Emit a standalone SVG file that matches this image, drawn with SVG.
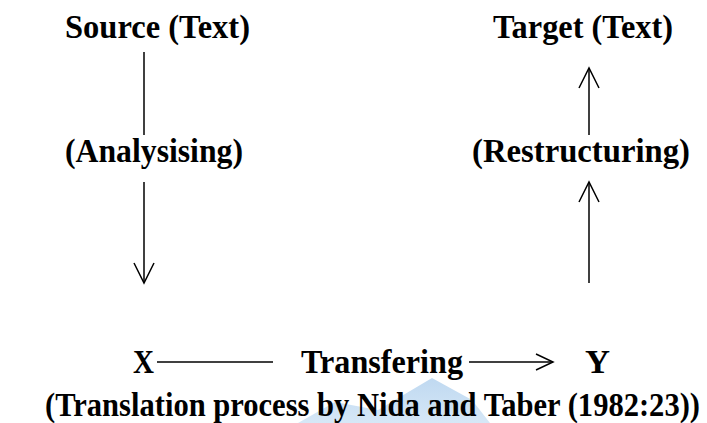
<svg xmlns="http://www.w3.org/2000/svg" width="707" height="423" viewBox="0 0 707 423">
<style>
.t{font-family:"Liberation Serif","Times New Roman",serif;font-weight:bold;font-size:34px;fill:#000}
.c{stroke:#000;stroke-width:1.5;fill:none}
</style>
<defs>
<linearGradient id="wm" x1="0" y1="0" x2="0" y2="1">
<stop offset="0" stop-color="#b4d2ee"/>
<stop offset="1" stop-color="#cfe3f5"/>
</linearGradient>
</defs>
<rect width="707" height="423" fill="#fff"/>
<g id="watermark">
<polygon points="298,423 335,402 378,410 432,378 472,400 490,423" fill="url(#wm)" opacity="0.85"/>
</g>
<g id="source"><text class="t" x="65" y="38" textLength="185" lengthAdjust="spacingAndGlyphs">Source (Text)</text></g>
<g id="target"><text class="t" x="493" y="38" textLength="180" lengthAdjust="spacingAndGlyphs">Target (Text)</text></g>
<g id="analysing"><text class="t" x="65" y="162" textLength="178" lengthAdjust="spacingAndGlyphs">(Analysising)</text></g>
<g id="restructuring"><text class="t" x="472" y="162" textLength="218" lengthAdjust="spacingAndGlyphs">(Restructuring)</text></g>
<g id="x"><text class="t" x="133" y="373" textLength="21" lengthAdjust="spacingAndGlyphs">X</text></g>
<g id="transfering"><text class="t" x="301" y="373" textLength="162" lengthAdjust="spacingAndGlyphs">Transfering</text></g>
<g id="y"><text class="t" x="585" y="373" textLength="25" lengthAdjust="spacingAndGlyphs">Y</text></g>
<g id="caption"><text class="t" x="45" y="416" textLength="655" lengthAdjust="spacingAndGlyphs">(Translation process by Nida and Taber (1982:23))</text></g>
<g id="connectors">
<line class="c" x1="144" y1="52" x2="144" y2="135"/>
<line class="c" x1="144" y1="182" x2="144" y2="283"/>
<polyline class="c" points="134,263 144,283 154,263"/>
<line class="c" x1="589" y1="283" x2="589" y2="182"/>
<polyline class="c" points="579,202 589,182 599,202"/>
<line class="c" x1="589" y1="135" x2="589" y2="68"/>
<polyline class="c" points="579,88 589,68 599,88"/>
<line class="c" x1="157" y1="362" x2="273" y2="362"/>
<line class="c" x1="469" y1="362" x2="553" y2="362"/>
<polyline class="c" points="536,354 553,362 536,370"/>
</g>
</svg>
